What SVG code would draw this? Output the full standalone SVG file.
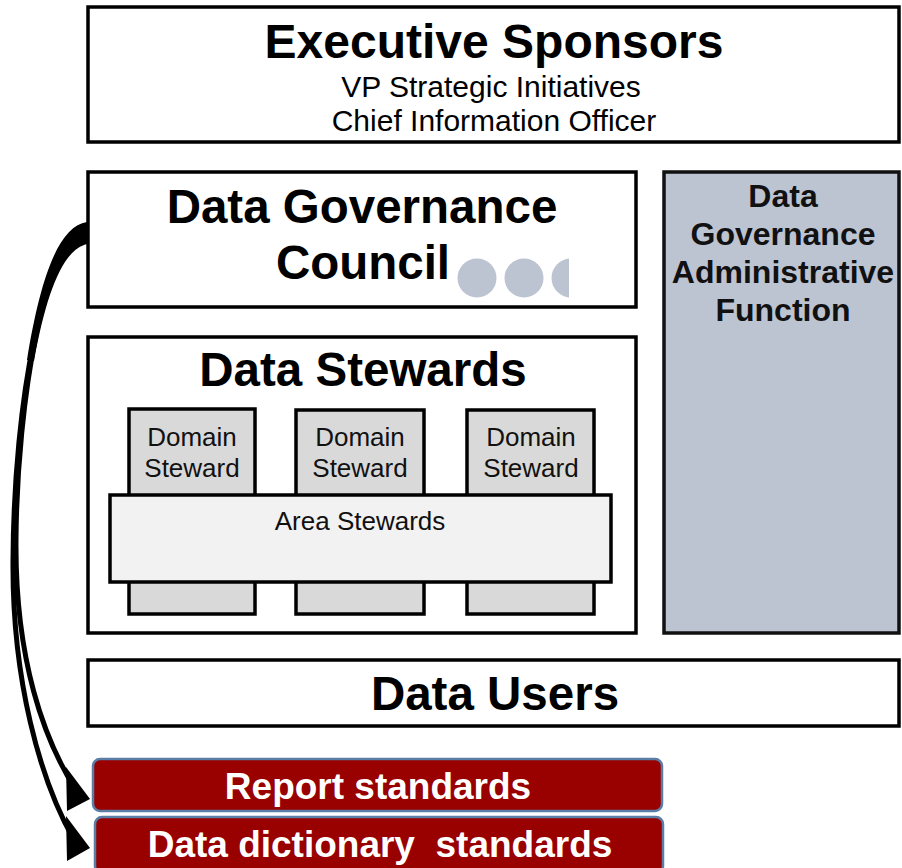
<svg xmlns="http://www.w3.org/2000/svg" width="902" height="868" viewBox="0 0 902 868">
<style>
.box{fill:#fff;stroke:#000;stroke-width:3.5}
.dom{fill:#d9d9d9;stroke:#000;stroke-width:3.5}
.area{fill:#f2f2f2;stroke:#000;stroke-width:3.5}
.adm{fill:#bcc3d1;stroke:#111;stroke-width:3.5}
.red{fill:#990000;stroke:#5a7ea6;stroke-width:2.5}
.t{font-family:"Liberation Sans",Arial,sans-serif;text-anchor:middle;fill:#000}
.big{font-size:47.5px;font-weight:bold}
.sub{font-size:30px}
.adt{font-size:32px;font-weight:bold;fill:#111}
.sm{font-size:26px;fill:#111}
.wt{font-size:37px;font-weight:bold;fill:#fff}
.dot{fill:#bcc3d1}
.arr{fill:none;stroke:#000;stroke-width:5}
</style>
<defs>
<clipPath id="dotclip"><rect x="440" y="250" width="129" height="60"/></clipPath>
</defs>
<g id="exec">
<rect class="box" x="88" y="7" width="811" height="135"/>
<text class="t big" x="494" y="58" style="font-size:48px">Executive Sponsors</text>
<text class="t sub" x="491" y="97">VP Strategic Initiatives</text>
<text class="t sub" x="494" y="131">Chief Information Officer</text>
</g>
<g id="council">
<rect class="box" x="88" y="172" width="548" height="135"/>
<text class="t big" x="362" y="223">Data Governance</text>
<text class="t big" x="363" y="279">Council</text>
<g clip-path="url(#dotclip)">
<circle class="dot" cx="477" cy="278" r="19.5"/>
<circle class="dot" cx="524" cy="278" r="19.5"/>
<circle class="dot" cx="571" cy="278" r="19.5"/>
</g>
</g>
<g id="admin">
<rect class="adm" x="664" y="172" width="235" height="461"/>
<text class="t adt" x="783" y="207">Data</text>
<text class="t adt" x="783" y="245">Governance</text>
<text class="t adt" x="783" y="283">Administrative</text>
<text class="t adt" x="783" y="321">Function</text>
</g>
<g id="stewards">
<rect class="box" x="88" y="337" width="548" height="296"/>
<text class="t big" x="363" y="386">Data Stewards</text>
</g>
<g id="domain1">
<rect class="dom" x="129" y="409" width="126" height="205"/>
<text class="t sm" x="192" y="446">Domain</text>
<text class="t sm" x="192" y="477">Steward</text>
</g>
<g id="domain2">
<rect class="dom" x="296" y="410" width="128" height="204"/>
<text class="t sm" x="360" y="446">Domain</text>
<text class="t sm" x="360" y="477">Steward</text>
</g>
<g id="domain3">
<rect class="dom" x="467" y="410" width="127" height="204"/>
<text class="t sm" x="531" y="446">Domain</text>
<text class="t sm" x="531" y="477">Steward</text>
</g>
<g id="area">
<rect class="area" x="110" y="495" width="501" height="87"/>
<text class="t sm" x="360" y="530">Area Stewards</text>
</g>
<g id="users">
<rect class="box" x="88" y="660" width="811" height="66"/>
<text class="t big" x="495" y="710">Data Users</text>
</g>
<g id="report">
<rect class="red" x="93" y="759" width="569" height="52" rx="7"/>
<text class="t wt" x="378" y="799">Report standards</text>
</g>
<g id="dictionary">
<rect class="red" x="95" y="817" width="568" height="56" rx="7"/>
<text class="t wt" x="380" y="857">Data dictionary &#160;standards</text>
</g>
<g id="connectors">
<path d="M87 222 C58 226 40 280 27 360 L34 361 C46 295 62 250 87 244 Z" fill="#000"/>
<path class="arr" d="M86 238 C44 240 14 400 13 560 C12 680 40 780 74 840"/>
<path class="arr" d="M86 229 C46 232 17 400 16 540 C15 660 44 740 76 790"/>
<polygon points="66,767 90,799 67,811" fill="#000"/>
<polygon points="66,816 90,848 67,861" fill="#000"/>
</g>
</svg>
